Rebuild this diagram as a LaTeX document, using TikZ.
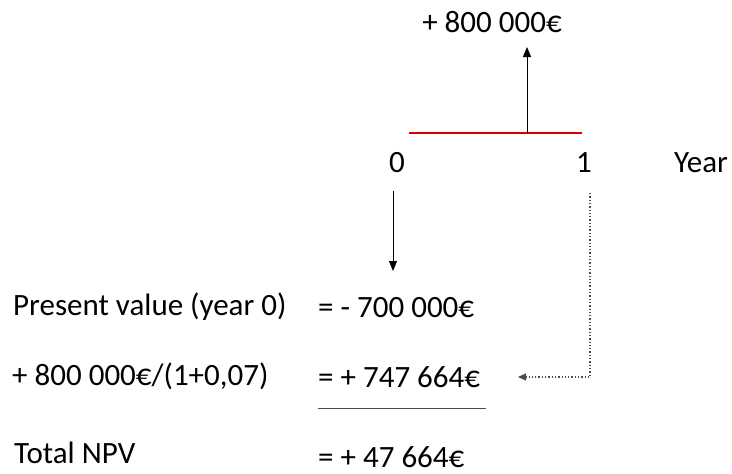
\documentclass[tikz,border=0pt]{standalone}
\usepackage{fontspec}
\setmainfont{Carlito}
\usetikzlibrary{arrows.meta}
\begin{document}
\begin{tikzpicture}[x=1pt,y=-1pt,
  txt/.style={inner sep=0pt,anchor=base,font=\fontsize{31}{36}\selectfont},
  lft/.style={txt,anchor=base west},
  arr/.style={line width=1pt,-{Triangle[length=10pt,width=8pt]}},
  dotarr/.style={line width=1.3pt,dotted,draw=black!70,-{Triangle[length=8pt,width=7pt]}}]
\useasboundingbox (0,0) rectangle (732,474);
\node[txt] (cash) at (492,32) {+ 800 000€};
\coordinate (r0) at (409,133);
\coordinate (r1) at (582,133);
\draw[red!85!black,line width=1.8pt] (r0) -- (r1);
\coordinate (ub) at (527,133);
\coordinate (ut) at (527,47);
\draw[arr] (ub) -- (ut);
\node[txt] (y0) at (397,172) {0};
\node[txt] (y1) at (584,172) {1};
\node[txt] (year) at (701,172) {Year};
\coordinate (db) at (393,191);
\coordinate (dt) at (393,271);
\draw[arr] (db) -- (dt);
\node[lft] (pv) at (13,315) {Present value (year 0)};
\node[lft] (pvv) at (318,317) {= - 700 000€};
\node[lft] (dc) at (12,385) {+ 800 000€/(1+0,07)};
\node[lft] (dcv) at (318,387) {= + 747 664€};
\coordinate (l0) at (318,408);
\coordinate (l1) at (486,408);
\draw[line width=0.8pt,black!70] (l0) -- (l1);
\node[lft] (tot) at (14,463) {Total NPV};
\node[lft] (totv) at (318,467) {= + 47 664€};
\coordinate (dtop) at (590,193);
\coordinate (dcor) at (590,377);
\coordinate (dend) at (518,377);
\draw[dotarr] (dtop) -- (dcor) -- (dend);
\end{tikzpicture}
\end{document}
